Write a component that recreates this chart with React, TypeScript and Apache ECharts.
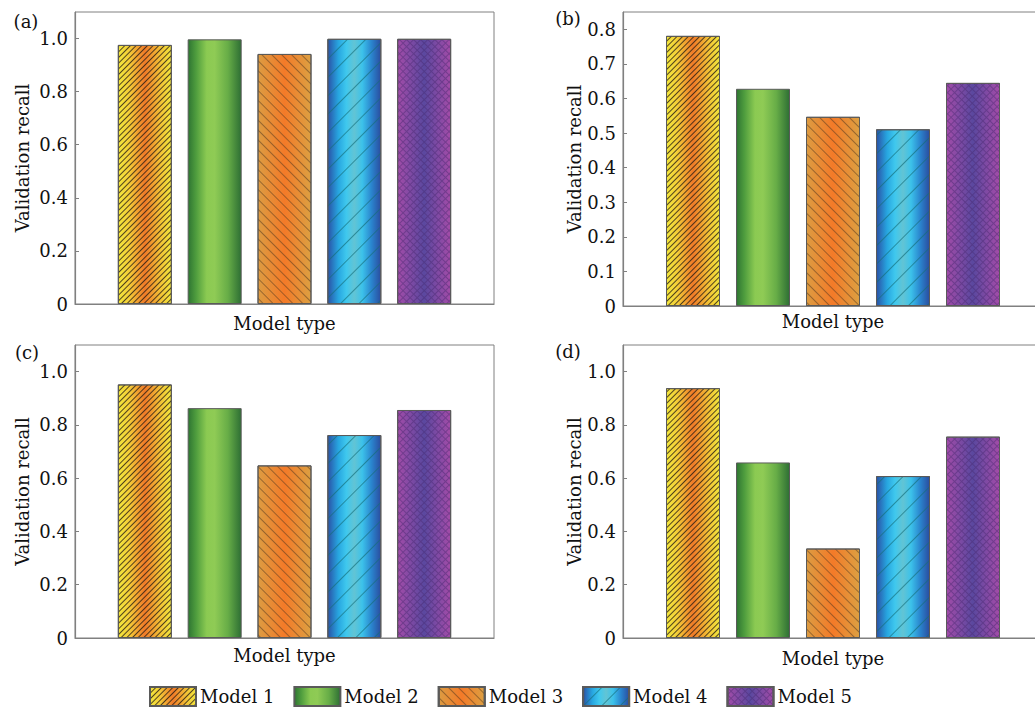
import React, { useEffect, useRef } from 'react';
import * as echarts from 'echarts';

const models = ['Model 1', 'Model 2', 'Model 3', 'Model 4', 'Model 5'];
const xCategories = ['', ...models, ''];
const recallA = [0.976, 0.997, 0.942, 0.999, 0.999];
const recallB = [0.781, 0.628, 0.547, 0.511, 0.645];
const recallC = [0.952, 0.863, 0.648, 0.762, 0.856];
const recallD = [0.938, 0.659, 0.336, 0.608, 0.756];
const panelValues = [recallA, recallB, recallC, recallD];
const panelLabels = ['(a)', '(b)', '(c)', '(d)'];
const yMax = [1.1, 0.85, 1.1, 1.1];
const yInterval = [0.2, 0.1, 0.2, 0.2];
const yName = 'Validation recall';
const xName = 'Model type';

const FONT = "'DejaVu Serif', serif";

const grids = [
  { left: 75, top: 12, width: 419, height: 292 },
  { left: 623, top: 12, width: 420, height: 294 },
  { left: 75, top: 345, width: 419, height: 293 },
  { left: 623, top: 345, width: 420, height: 293 },
];
const yNameGap = [44, 40, 44, 40];
const xNameGap = [10, 6, 8, 11];
const labelPos = [
  [26, 21],
  [568, 18],
  [27, 352],
  [568, 351],
];

const grad = (stops: [number, string][]) =>
  new echarts.graphic.LinearGradient(
    0, 0, 1, 0,
    stops.map(([offset, color]) => ({ offset, color }))
  );

const fills = [
  grad([[0, '#f2e63c'], [0.2, '#f4cf38'], [0.5, '#f07a28'], [0.8, '#f3c436'], [1, '#f2e63c']]),
  grad([[0, '#2e7532'], [0.15, '#4f9d3e'], [0.35, '#8bca52'], [0.5, '#8fcb55'], [0.75, '#67ad47'], [1, '#2e6f34']]),
  grad([[0, '#dc9c42'], [0.5, '#f47a28'], [1, '#dca042']]),
  grad([[0, '#2a52a6'], [0.2, '#27a6e0'], [0.35, '#3fc8ee'], [0.5, '#62c4d4'], [0.65, '#3cc2ea'], [0.82, '#2a86cf'], [1, '#2a4d9f']]),
  grad([[0, '#a24ca8'], [0.5, '#5a489f'], [1, '#a44ca8']]),
];

const decals: any[] = [
  { symbol: 'rect', dashArrayX: [1, 0], dashArrayY: [1, 3], rotation: -Math.PI / 4, color: 'rgba(40,30,20,0.8)' },
  null,
  { symbol: 'rect', dashArrayX: [1, 0], dashArrayY: [1, 6], rotation: Math.PI / 4, color: 'rgba(90,60,30,0.55)' },
  { symbol: 'rect', dashArrayX: [1, 0], dashArrayY: [1, 12], rotation: -Math.PI / 4, color: 'rgba(20,110,120,0.65)' },
  { symbol: 'rect', dashArrayX: [[5, 0], [1, 4]], dashArrayY: [1, 0, 4, 0], rotation: Math.PI / 4, color: 'rgba(70,40,110,0.45)' },
];

export default function App() {
  const ref = useRef<HTMLDivElement>(null);
  useEffect(() => {
    if (!ref.current) return;
    const chart = echarts.init(ref.current, undefined, { renderer: 'svg' });

    const series: any[] = [];
    panelValues.forEach((vals, p) => {
      models.forEach((name, m) => {
        const itemStyle: any = { color: fills[m], borderColor: '#5a5a5a', borderWidth: 1 };
        if (decals[m]) itemStyle.decal = decals[m];
        series.push({
          type: 'bar',
          name,
          xAxisIndex: p,
          yAxisIndex: p,
          barWidth: 54,
          barGap: '-100%',
          itemStyle,
          emphasis: { disabled: true },
          data: xCategories.map((_, k) => (k === m + 1 ? vals[m] : '-')),
        });
      });
    });

    const option: any = {
      animation: false,
      backgroundColor: '#ffffff',
      textStyle: { fontFamily: FONT },
      grid: grids.map((g) => ({ ...g, show: true, borderColor: '#808080', borderWidth: 1, backgroundColor: 'transparent' })),
      xAxis: grids.map((_, p) => ({
        type: 'category',
        gridIndex: p,
        data: xCategories,
        boundaryGap: false,
        axisLine: { show: true, lineStyle: { color: '#808080', width: 1.2 } },
        axisTick: { show: false },
        axisLabel: { show: false },
        splitLine: { show: false },
        name: xName,
        nameLocation: 'middle',
        nameGap: xNameGap[p],
        nameTextStyle: { fontFamily: FONT, fontSize: 18, color: '#111' },
      })),
      yAxis: grids.map((_, p) => ({
        type: 'value',
        gridIndex: p,
        min: 0,
        max: yMax[p],
        interval: yInterval[p],
        axisLine: { show: true, lineStyle: { color: '#808080', width: 1.2 } },
        axisTick: { show: true, inside: true, length: 4, lineStyle: { color: '#808080' } },
        splitLine: { show: false },
        axisLabel: {
          showMaxLabel: false,
          margin: 7,
          fontFamily: FONT,
          fontSize: 18,
          color: '#111',
          formatter: (v: number) => (v > yMax[p] - 0.01 ? '' : v === 0 ? '0' : v.toFixed(1)),
        },
        name: yName,
        nameLocation: 'middle',
        nameGap: yNameGap[p],
        nameTextStyle: { fontFamily: FONT, fontSize: 18, color: '#111' },
      })),
      legend: {
        data: models,
        icon: 'rect',
        left: 144,
        top: 681,
        itemWidth: 46,
        itemHeight: 19,
        itemGap: 19,
        textStyle: { fontFamily: FONT, fontSize: 18, color: '#111', padding: [0, 0, 0, -1] },
      },
      graphic: panelLabels.map((t, i) => ({
        type: 'text',
        x: labelPos[i][0],
        y: labelPos[i][1],
        style: { text: t, font: `18px ${FONT}`, fill: '#111', textAlign: 'center', textVerticalAlign: 'middle' },
      })),
      series,
    };
    chart.setOption(option);
    return () => chart.dispose();
  }, []);

  return (
    <div style={{ position: 'fixed', left: 0, top: 0, width: 1035, height: 709, overflow: 'hidden', background: '#fff' }}>
      <div ref={ref} style={{ width: 1050, height: 709 }} />
    </div>
  );
}
